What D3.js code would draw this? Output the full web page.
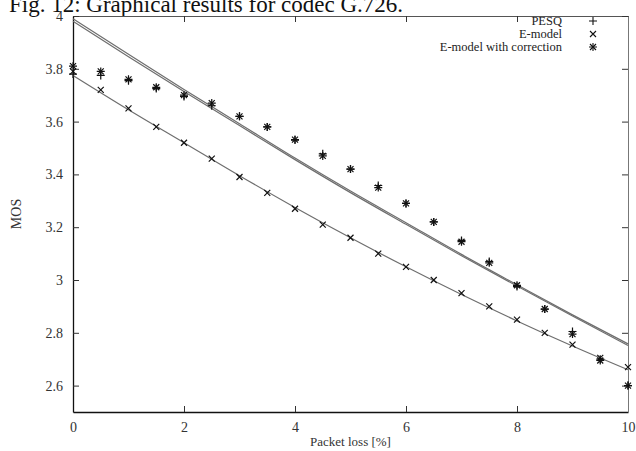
<!DOCTYPE html>
<html>
<head>
<meta charset="utf-8">
<script src="https://cdn.jsdelivr.net/npm/d3@7"></script>
<style>
  body { margin: 0; background: #fff; }
  svg { display: block; font-family: "Liberation Serif", "DejaVu Serif", serif; }
</style>
</head>
<body>
<svg id="chart"></svg>
<script>
// packet loss values (%) for the measured points
const lossPoints = [0, 0.5, 1, 1.5, 2, 2.5, 3, 3.5, 4, 4.5, 5, 5.5, 6, 6.5, 7, 7.5, 8, 8.5, 9, 9.5, 10];
const pesq       = [3.78, 3.775, 3.755, 3.725, 3.695, 3.66, 3.62, 3.58, 3.53, 3.478, 3.42, 3.358, 3.29, 3.22, 3.15, 3.07, 2.975, 2.89, 2.805, 2.70, 2.60];
const emodel     = [3.79, 3.72, 3.65, 3.58, 3.52, 3.46, 3.39, 3.33, 3.27, 3.21, 3.16, 3.10, 3.05, 3.00, 2.95, 2.90, 2.85, 2.80, 2.755, 2.705, 2.67];
const corrected  = [3.81, 3.79, 3.76, 3.73, 3.70, 3.67, 3.62, 3.58, 3.532, 3.47, 3.42, 3.35, 3.29, 3.22, 3.145, 3.065, 2.98, 2.89, 2.795, 2.695, 2.60];

// fitted curves, read at whole percent steps
const lossFit      = [0, 1, 2, 3, 4, 5, 6, 7, 8, 9, 10];
const fitPesq      = [3.99, 3.855, 3.722, 3.592, 3.462, 3.337, 3.217, 3.097, 2.982, 2.868, 2.758];
const fitCorrected = [3.98, 3.846, 3.714, 3.585, 3.456, 3.331, 3.211, 3.092, 2.977, 2.864, 2.752];
const fitEmodel    = [3.775, 3.645, 3.52, 3.395, 3.275, 3.16, 3.05, 2.945, 2.845, 2.75, 2.66];

const xTicks = [0, 2, 4, 6, 8, 10];
const yTicks = [2.6, 2.8, 3, 3.2, 3.4, 3.6, 3.8, 4];
const legendItems = ['PESQ', 'E-model', 'E-model with correction'];

const width = 636, height = 451;
const margin = {top: 16, right: 8, bottom: 39, left: 73};

const svg = d3.select('#chart')
    .attr('width', width)
    .attr('height', height);

const x = d3.scaleLinear().domain([0, 10]).range([margin.left, width - margin.right]);
const y = d3.scaleLinear().domain([2.5, 4]).range([height - margin.bottom, margin.top]);

// caption, clipped at the top of the page
svg.append('text')
    .attr('x', 9)
    .attr('y', 12)
    .attr('font-size', 23)
    .attr('fill', '#111')
    .text('Fig. 12: Graphical results for codec G.726.');

// axes with inward ticks, mirrored on top and right
const tickLen = 6;
svg.append('g')
    .attr('transform', `translate(0,${y.range()[0]})`)
    .call(d3.axisBottom(x).tickValues(xTicks).tickFormat(d3.format('d')).tickSizeInner(-tickLen).tickSizeOuter(0).tickPadding(10))
    .call(g => g.select('.domain').attr('stroke', '#111').attr('stroke-width', 1.3));

svg.append('g')
    .attr('transform', `translate(0,${y.range()[1]})`)
    .call(d3.axisTop(x).tickValues(xTicks).tickFormat('').tickSizeInner(-tickLen).tickSizeOuter(0))
    .call(g => g.select('.domain').attr('stroke', '#555'));

svg.append('g')
    .attr('transform', `translate(${x.range()[0]},0)`)
    .call(d3.axisLeft(y).tickValues(yTicks).tickFormat(d => d3.format('')(d)).tickSizeInner(-tickLen).tickSizeOuter(0).tickPadding(10))
    .call(g => g.select('.domain').attr('stroke', '#111').attr('stroke-width', 1.3));

svg.append('g')
    .attr('transform', `translate(${x.range()[1]},0)`)
    .call(d3.axisRight(y).tickValues(yTicks).tickFormat('').tickSizeInner(-tickLen).tickSizeOuter(0))
    .call(g => g.select('.domain').attr('stroke', '#777'));

svg.selectAll('.tick text')
    .attr('font-family', '"Liberation Serif", serif')
    .attr('font-size', 14)
    .attr('fill', '#333');
svg.selectAll('.tick line').attr('stroke', '#333');

// axis titles
svg.append('text')
    .attr('x', (x.range()[0] + x.range()[1]) / 2)
    .attr('y', 446)
    .attr('text-anchor', 'middle')
    .attr('font-size', 13)
    .attr('fill', '#333')
    .text('Packet loss [%]');

svg.append('text')
    .attr('transform', `translate(21,${(y.range()[0] + y.range()[1]) / 2}) rotate(-90)`)
    .attr('text-anchor', 'middle')
    .attr('font-size', 14)
    .attr('fill', '#333')
    .text('MOS');

// fitted curves
const line = d3.line()
    .x((d, i) => x(lossFit[i]))
    .y(d => y(d))
    .curve(d3.curveMonotoneX);

[fitPesq, fitCorrected, fitEmodel].forEach(series => {
    svg.append('path')
        .attr('d', line(series))
        .attr('fill', 'none')
        .attr('stroke', '#6e6e6e')
        .attr('stroke-width', 1.2);
});

// markers
const ms = 4;
function plus(g, cx, cy) {
    g.append('path').attr('d', `M${cx - ms},${cy}H${cx + ms}M${cx},${cy - ms}V${cy + ms}`);
}
function cross(g, cx, cy) {
    const s = ms * 0.75;
    g.append('path').attr('d', `M${cx - s},${cy - s}L${cx + s},${cy + s}M${cx - s},${cy + s}L${cx + s},${cy - s}`);
}
function star(g, cx, cy) {
    plus(g, cx, cy);
    cross(g, cx, cy);
}

const marks = svg.append('g')
    .attr('stroke', '#111')
    .attr('stroke-width', 1.2)
    .attr('fill', 'none');

lossPoints.forEach((d, i) => {
    plus(marks, x(d), y(pesq[i]));
    cross(marks, x(d), y(emodel[i]));
    star(marks, x(d), y(corrected[i]));
});

// legend
const symbols = [plus, cross, star];
const legend = svg.append('g');
legendItems.forEach((name, i) => {
    const ly = 21 + i * 13;
    legend.append('text')
        .attr('x', 562)
        .attr('y', ly + 4)
        .attr('text-anchor', 'end')
        .attr('font-size', 12.5)
        .attr('fill', '#222')
        .text(name);
    const g = legend.append('g')
        .attr('stroke', '#111')
        .attr('stroke-width', 1.1)
        .attr('fill', 'none');
    symbols[i](g, 593, ly);
});
</script>
</body>
</html>
